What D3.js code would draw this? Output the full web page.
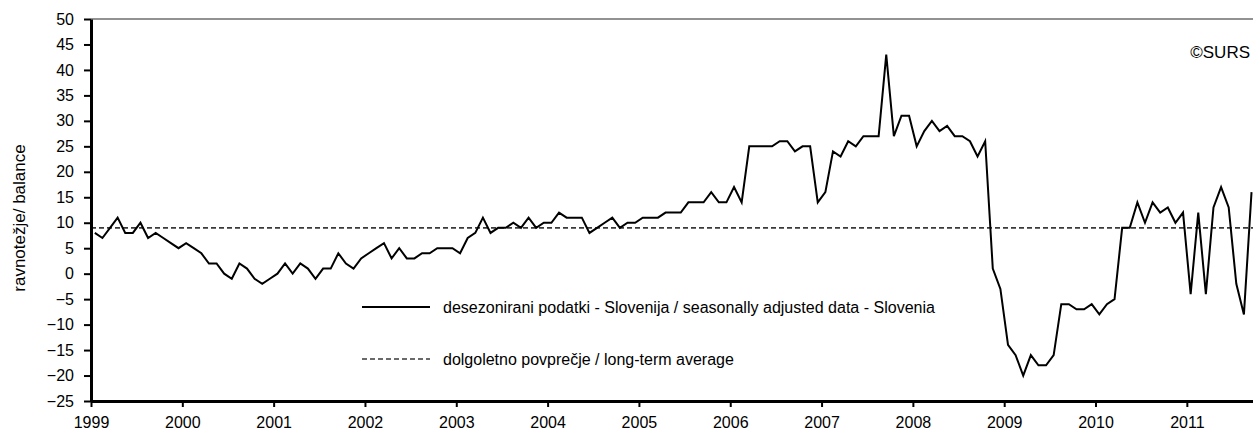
<!DOCTYPE html>
<meta charset="utf-8">
<style>
  body { margin: 0; background: #fff; }
  svg { display: block; }
  text { font-family: 'Liberation Sans', Arial, sans-serif; fill: #000; }
  .tick-label { font-size: 16px; }
  .legend-text { font-size: 16px; }
</style>
<script src="https://d3js.org/d3.v7.min.js"></script>
<svg width="1253" height="432"></svg>
<script>
// monthly balance, seasonally adjusted, Jan 1999 .. Sep 2011
var y1999 = [8, 7, 9, 11, 8, 8, 10, 7, 8, 7, 6, 5];
var y2000 = [6, 5, 4, 2, 2, 0, -1, 2, 1, -1, -2, -1];
var y2001 = [0, 2, 0, 2, 1, -1, 1, 1, 4, 2, 1, 3];
var y2002 = [4, 5, 6, 3, 5, 3, 3, 4, 4, 5, 5, 5];
var y2003 = [4, 7, 8, 11, 8, 9, 9, 10, 9, 11, 9, 10];
var y2004 = [10, 12, 11, 11, 11, 8, 9, 10, 11, 9, 10, 10];
var y2005 = [11, 11, 11, 12, 12, 12, 14, 14, 14, 16, 14, 14];
var y2006 = [17, 14, 25, 25, 25, 25, 26, 26, 24, 25, 25, 14];
var y2007 = [16, 24, 23, 26, 25, 27, 27, 27, 43, 27, 31, 31];
var y2008 = [25, 28, 30, 28, 29, 27, 27, 26, 23, 26, 1, -3];
var y2009 = [-14, -16, -20, -16, -18, -18, -16, -6, -6, -7, -7, -6];
var y2010 = [-8, -6, -5, 9, 9, 14, 10, 14, 12, 13, 10, 12];
var y2011 = [-4, 12, -4, 13, 17, 13, -2, -8, 16];

var longTermAvg = 9;
var years = d3.range(1999, 2012);
var yTicks = d3.range(-25, 51, 5);

var balance = [].concat(y1999, y2000, y2001, y2002, y2003, y2004, y2005,
  y2006, y2007, y2008, y2009, y2010, y2011);
var nMonths = 153;

var svg = d3.select("svg");
var plotLeft = 91, plotTop = 19, plotBottom = 401, monthW = 7.61;

var x = d3.scaleLinear().domain([0, nMonths]).range([plotLeft, plotLeft + nMonths * monthW]);
var y = d3.scaleLinear().domain([-25, 50]).range([plotBottom, plotTop]);

// top frame line
svg.append("line")
  .attr("x1", plotLeft).attr("x2", x(nMonths))
  .attr("y1", y(50)).attr("y2", y(50))
  .attr("stroke", "#6e6e6e").attr("stroke-width", 1.5);

// long-term average
svg.append("line")
  .attr("x1", plotLeft).attr("x2", x(nMonths))
  .attr("y1", y(longTermAvg)).attr("y2", y(longTermAvg))
  .attr("stroke", "#3a3a3a").attr("stroke-width", 1.6)
  .attr("stroke-dasharray", "5,3");

// data line
var line = d3.line()
  .x(function(d, i) { return x(i + 0.5); })
  .y(function(d) { return y(d); });

svg.append("path")
  .datum(balance)
  .attr("fill", "none")
  .attr("stroke", "#000")
  .attr("stroke-width", 2)
  .attr("stroke-linejoin", "miter")
  .attr("d", line);

// y axis
var yAxis = svg.append("g")
  .attr("transform", "translate(" + plotLeft + ",0)")
  .call(d3.axisLeft(y).tickValues(yTicks).tickSize(7).tickPadding(10).tickSizeOuter(0));
yAxis.select(".domain").attr("stroke", "#000").attr("stroke-width", 3);
yAxis.selectAll(".tick line").attr("stroke", "#000").attr("stroke-width", 2);
yAxis.selectAll(".tick text").attr("class", "tick-label");
yAxis.attr("font-family", null).attr("font-size", null);

// x axis
var xAxis = svg.append("g")
  .attr("transform", "translate(0," + plotBottom + ")")
  .call(d3.axisBottom(x)
    .tickValues(years.map(function(yr) { return (yr - 1999) * 12; }))
    .tickFormat(function(m) { return 1999 + m / 12; })
    .tickSize(6).tickPadding(10).tickSizeOuter(0));
xAxis.select(".domain").attr("stroke", "#000").attr("stroke-width", 3);
xAxis.selectAll(".tick line").attr("stroke", "#000").attr("stroke-width", 2);
xAxis.selectAll(".tick text").attr("class", "tick-label");
xAxis.attr("font-family", null).attr("font-size", null);

// axis title
svg.append("text")
  .attr("transform", "translate(25,218) rotate(-90)")
  .attr("text-anchor", "middle")
  .style("font-size", "17px")
  .text("ravnotežje/ balance");

// source
svg.append("text")
  .attr("x", 1250).attr("y", 58)
  .attr("text-anchor", "end")
  .style("font-size", "17px")
  .text("©SURS");

// legend
var legend = svg.append("g");
legend.append("line")
  .attr("x1", 362).attr("x2", 430).attr("y1", 307).attr("y2", 307)
  .attr("stroke", "#000").attr("stroke-width", 2);
legend.append("text")
  .attr("class", "legend-text")
  .attr("x", 443).attr("y", 307).attr("dy", "0.35em")
  .attr("textLength", 492).attr("lengthAdjust", "spacingAndGlyphs")
  .text("desezonirani podatki - Slovenija / seasonally adjusted data - Slovenia");
legend.append("line")
  .attr("x1", 362).attr("x2", 430).attr("y1", 359).attr("y2", 359)
  .attr("stroke", "#3a3a3a").attr("stroke-width", 1.6)
  .attr("stroke-dasharray", "5,3");
legend.append("text")
  .attr("class", "legend-text")
  .attr("x", 443).attr("y", 359).attr("dy", "0.35em")
  .text("dolgoletno povprečje / long-term average");
</script>
